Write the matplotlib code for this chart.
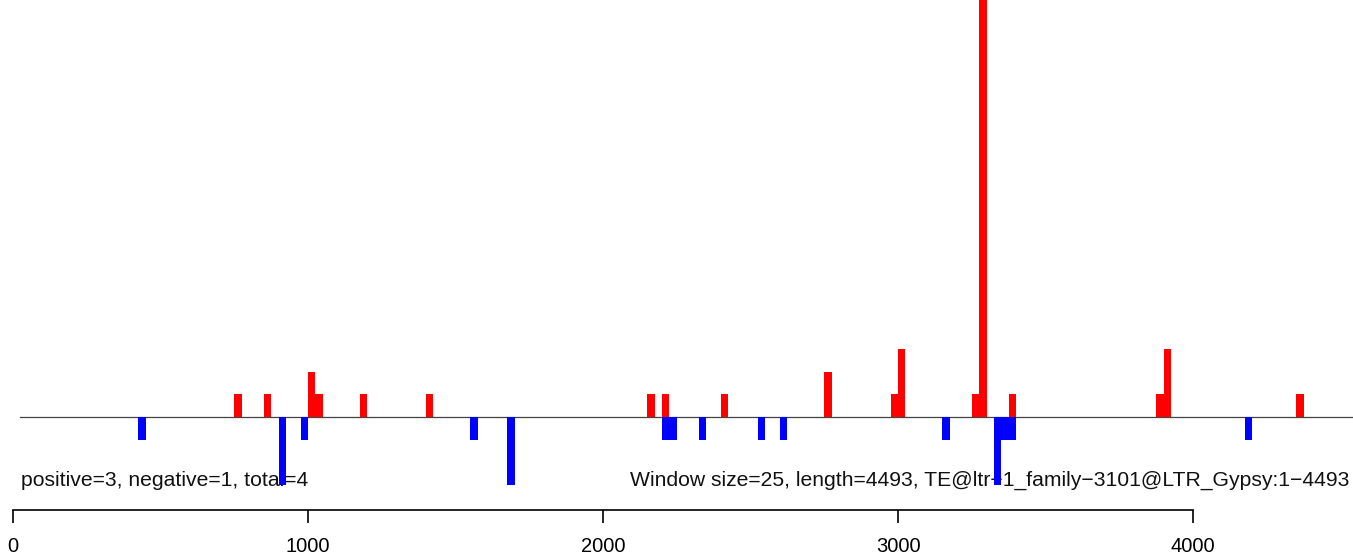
import matplotlib
matplotlib.use('Agg')
import matplotlib.pyplot as plt

plt.rcParams['font.family'] = ['Liberation Sans', 'DejaVu Sans']

# window starts (bp) and read counts per window, window size 25
pos_starts = [750, 850, 1000, 1025, 1175, 1400, 2150, 2200, 2400, 2750,
              2975, 3000, 3250, 3275, 3375, 3875, 3900, 4350]
pos_counts = [1, 1, 2, 1, 1, 1, 1, 1, 1, 2, 1, 3, 1, 20, 1, 1, 3, 1]
neg_starts = [425, 900, 975, 1550, 1675, 2200, 2225, 2325, 2525, 2600,
              3150, 3325, 3350, 3375, 4175]
neg_counts = [1, 3, 1, 1, 3, 1, 1, 1, 1, 1, 1, 3, 1, 1, 1]
win = 25
xticks = [0, 1000, 2000, 3000, 4000]
left_txt = 'positive=3, negative=1, total=4'
right_txt = 'Window size=25, length=4493, TE@ltr\u22121_family\u22123101@LTR_Gypsy:1\u22124493'

fig = plt.figure(figsize=(13.53, 5.58), dpi=100)
ax = fig.add_axes([0, 0, 1, 1])

ax.bar(pos_starts, pos_counts, width=win, align='edge', color='#ff0000', linewidth=0, zorder=2)
ax.bar(neg_starts, [-c for c in neg_counts], width=win, align='edge', color='#0000ff', linewidth=0, zorder=2)
ax.plot([24, 4600], [0, 0], color='#444444', linewidth=0.9, zorder=1)

ax.set_xlim(-44, 4542)
ax.set_ylim(-6.21, 18.37)

ax.text(27, -2.8, left_txt, fontsize=15.2, ha='left', va='center', color='#111111', zorder=1)
ax.text(4529, -2.8, right_txt, fontsize=15.2, ha='right', va='center', color='#111111', zorder=1)

for s in ['top', 'right', 'left']:
    ax.spines[s].set_visible(False)
ax.spines['bottom'].set_position(('data', -4.10))
ax.spines['bottom'].set_bounds(0, 4000)
ax.spines['bottom'].set_linewidth(1.2)
ax.set_yticks([])
ax.set_xticks(xticks)
ax.set_xticklabels([str(t) for t in xticks])
ax.tick_params(axis='x', direction='out', length=9.4, width=1.2, labelsize=14.5, pad=10)
ax.patch.set_alpha(0)

fig.savefig('out.png', dpi=100)
